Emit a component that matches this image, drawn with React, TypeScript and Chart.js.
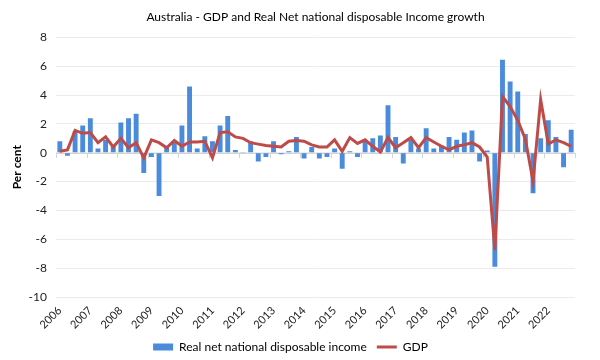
import React, { useEffect, useRef } from "react";
import { Chart, registerables } from "chart.js";

Chart.register(...registerables);

const years = ["2006","2007","2008","2009","2010","2011","2012","2013","2014","2015","2016","2017","2018","2019","2020","2021","2022"];
const quarters = ["Q1", "Q2", "Q3", "Q4"];

const incomeGrowth = [
  0.8, -0.2, 1.5, 1.9, 2.4, 0.3, 0.9, 0.45, 2.1, 2.4, 2.7, -1.4, -0.3, -3.0, 0.35, 0.8,
  1.9, 4.6, 0.3, 1.15, 0.8, 1.9, 2.55, 0.2, 0.02, 0.8, -0.6, -0.3, 0.8, -0.1, 0.1, 1.1,
  -0.4, 0.4, -0.4, -0.3, 0.3, -1.1, 0.1, -0.3, 0.9, 1.0, 1.2, 3.3, 1.1, -0.75, 0.9, 0.3,
  1.7, 0.3, 0.5, 1.1, 0.9, 1.4, 1.55, -0.6, 0.15, -7.9, 6.45, 4.95, 4.25, 1.3, -2.8, 1.0,
  2.25, 1.1, -1.0, 1.6,
];

const gdpGrowth = [
  0.1, 0.2, 1.55, 1.35, 1.4, 0.7, 1.1, 0.4, 1.0, 0.35, 0.7, -0.35, 0.9, 0.7, 0.35, 0.85,
  0.45, 0.75, 0.75, 0.8, -0.35, 1.4, 1.45, 1.1, 1.0, 0.7, 0.6, 0.5, 0.45, 0.4, 0.8, 0.85,
  0.8, 0.55, 0.4, 0.4, 0.9, 0.1, 1.05, 0.65, 0.9, 0.45, 0.05, 1.05, 0.35, 0.7, 1.05, 0.35,
  1.05, 0.75, 0.45, 0.2, 0.45, 0.55, 0.7, 0.4, -0.3, -6.75, 3.9, 3.2, 2.25, 0.95, -2.0, 3.7,
  0.6, 0.9, 0.7, 0.45,
];

const labels: string[] = [];
years.forEach((y) => quarters.forEach((q) => labels.push(y + " " + q)));

const BAR_COLOR = "#4a8bdc";
const LINE_COLOR = "#be4b48";
const FONT = "Lato";

const zeroAxisPlugin = {
  id: "zeroAxis",
  beforeDatasetsDraw(chart: any) {
    const { ctx, chartArea, scales } = chart;
    const xs = scales.x;
    const ys = scales.y;
    const y0 = Math.round(ys.getPixelForValue(0));
    ctx.save();
    ctx.strokeStyle = "#d4d4d4";
    ctx.lineWidth = 1;
    ctx.beginPath();
    ctx.moveTo(chartArea.left, y0 + 0.5);
    ctx.lineTo(chartArea.right, y0 + 0.5);
    const n = labels.length;
    for (let i = 0; i <= n; i += 4) {
      const x = Math.round(xs.left + (i * xs.width) / n) + 0.5;
      ctx.moveTo(x, y0);
      ctx.lineTo(x, y0 + 5);
    }
    ctx.stroke();
    ctx.restore();
  },
};

export default function App() {
  const ref = useRef<HTMLCanvasElement | null>(null);
  useEffect(() => {
    if (!ref.current) return;
    const chart = new Chart(ref.current, {
      type: "bar",
      data: {
        labels,
        datasets: [
          {
            type: "bar",
            label: "Real net national disposable income",
            data: incomeGrowth,
            backgroundColor: BAR_COLOR,
            borderWidth: 0,
            barPercentage: 0.64,
            categoryPercentage: 1,
            order: 1,
          },
          {
            type: "line",
            label: "GDP",
            data: gdpGrowth,
            borderColor: LINE_COLOR,
            backgroundColor: LINE_COLOR,
            borderWidth: 3,
            pointRadius: 0,
            tension: 0,
            order: 0,
          } as any,
        ],
      },
      options: {
        animation: false,
        responsive: true,
        maintainAspectRatio: false,
        layout: { padding: { left: 6, right: 25, top: 0, bottom: 0 } },
        plugins: {
          title: {
            display: true,
            fullSize: false,
            text: "Australia - GDP and Real Net national disposable Income growth",
            color: "#000",
            font: { family: FONT, size: 12, weight: "normal" },
            padding: { top: 10, bottom: 13 },
          },
          legend: {
            position: "bottom",
            maxHeight: 29,
            labels: {
              color: "#000",
              font: { family: FONT, size: 12 },
              usePointStyle: true,
              pointStyleWidth: 20,
              boxHeight: 7,
              padding: 10,
              sort: (a: any, b: any) => a.datasetIndex - b.datasetIndex,
              generateLabels: (c: any) => {
                const items = (Chart.defaults.plugins.legend.labels as any).generateLabels(c);
                items.forEach((it: any) => {
                  if (it.datasetIndex === 1) {
                    it.pointStyle = "line";
                    it.strokeStyle = LINE_COLOR;
                    it.lineWidth = 3;
                  } else {
                    it.pointStyle = "rect";
                    it.fillStyle = BAR_COLOR;
                    it.lineWidth = 0;
                  }
                });
                return items;
              },
            },
          },
          tooltip: { enabled: false },
        },
        scales: {
          x: {
            grid: { display: false, drawTicks: false },
            border: { display: false },
            ticks: {
              autoSkip: false,
              minRotation: 45,
              maxRotation: 45,
              padding: 7,
              color: "#222",
              font: { family: FONT, size: 11 },
              callback: (_v: any, i: number) => (i % 4 === 0 ? years[i / 4] : ""),
            },
            afterFit: (s: any) => {
              s.height = 34;
            },
          },
          y: {
            min: -10,
            max: 8,
            ticks: {
              stepSize: 2,
              color: "#222",
              padding: 9,
              font: { family: FONT, size: 12 },
            },
            grid: { color: "#ebebeb", drawTicks: false },
            border: { display: false },
            title: {
              display: true,
              text: "Per cent",
              color: "#000",
              font: { family: FONT, size: 12, weight: "bold" },
              padding: { top: 4, bottom: 4 },
            },
            afterFit: (s: any) => {
              s.width = 50;
            },
          },
        },
      },
      plugins: [zeroAxisPlugin],
    });
    return () => chart.destroy();
  }, []);
  return (
    <div style={{ position: "absolute", left: 0, top: 0, width: 600, height: 360 }}>
      <canvas ref={ref} />
    </div>
  );
}
